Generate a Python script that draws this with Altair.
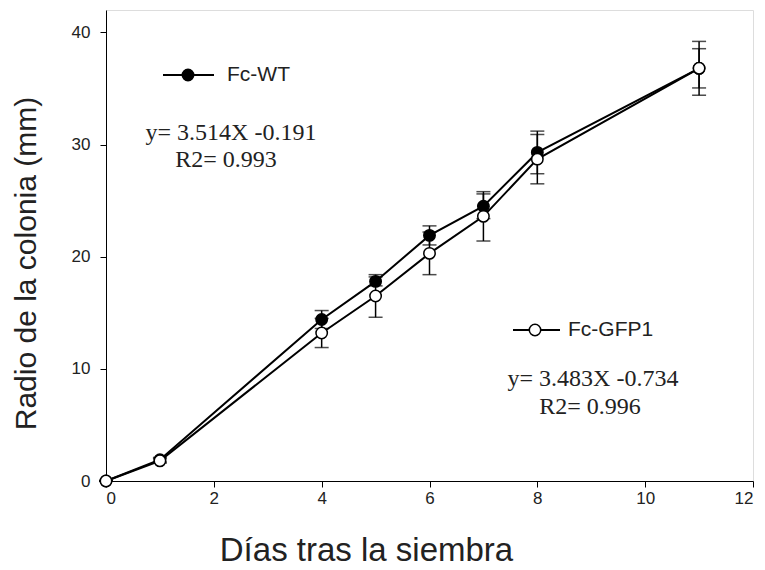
import altair as alt
import pandas as pd

days = [0, 1, 4, 5, 6, 7, 8, 11]
wt_mean = [0.0, 1.9, 14.4, 17.8, 21.9, 24.5, 29.3, 36.8]
wt_err = [0.0, 0.2, 0.8, 0.4, 0.85, 1.1, 1.9, 2.4]
gfp_mean = [0.0, 1.8, 13.2, 16.5, 20.3, 23.6, 28.7, 36.8]
gfp_err = [0.0, 0.2, 1.3, 1.9, 1.9, 2.2, 2.2, 1.75]
series_names = ["Fc-WT", "Fc-GFP1"]

rows = []
for name, means, errs in [("Fc-WT", wt_mean, wt_err), ("Fc-GFP1", gfp_mean, gfp_err)]:
    for d, m, e in zip(days, means, errs):
        rows.append({"day": d, "radio": m, "lo": m - e, "hi": m + e, "series": name})
df = pd.DataFrame(rows)

FONT_SANS = "Liberation Sans"
FONT_SERIF = "Liberation Serif"

xs = alt.Scale(domain=[0, 12], nice=False)
ys = alt.Scale(domain=[0, 42], nice=False)

x_enc = alt.X("day:Q", scale=xs, axis=alt.Axis(
    title="Días tras la siembra", values=[0, 2, 4, 6, 8, 10, 12], format="d",
    titleX=260, titleY=69, titleAlign="center", titleBaseline="middle",
    titleFontSize=33, titleFontWeight="normal", titleFont=FONT_SANS,
    labelFontSize=17, labelFont=FONT_SANS, labelPadding=3, tickSize=6,
    grid=False, domainColor="black", tickColor="black", labelColor="#222222",
    titleColor="#222222"))
y_enc = alt.Y("radio:Q", scale=ys, axis=alt.Axis(
    title="Radio de la colonia (mm)", values=[0, 10, 20, 30, 40],
    titleX=-80, titleY=253, titleAlign="center", titleBaseline="middle", titleAngle=-90,
    titleFontSize=30, titleFontWeight="normal", titleFont=FONT_SANS,
    labelFontSize=17, labelFont=FONT_SANS, labelPadding=10, tickSize=6,
    grid=False, domainColor="black", tickColor="black", labelColor="#222222",
    titleColor="#222222"))

base = alt.Chart(df)

err_rule = base.mark_rule(color="black", strokeWidth=1.5).encode(
    x=x_enc, y=alt.Y("lo:Q", scale=ys), y2="hi:Q")
cap_lo = base.mark_tick(orient="horizontal", size=14, thickness=1.5, color="black").encode(
    x=alt.X("day:Q", scale=xs), y=alt.Y("lo:Q", scale=ys))
cap_hi = base.mark_tick(orient="horizontal", size=14, thickness=1.5, color="black").encode(
    x=alt.X("day:Q", scale=xs), y=alt.Y("hi:Q", scale=ys))
lines = base.mark_line(color="black", strokeWidth=2).encode(
    x=x_enc, y=y_enc, detail="series:N")
points = base.mark_point(filled=True, size=130, stroke="black", strokeWidth=1.5, opacity=1).encode(
    x=alt.X("day:Q", scale=xs), y=alt.Y("radio:Q", scale=ys),
    fill=alt.Fill("series:N", scale=alt.Scale(domain=series_names, range=["black", "white"]), legend=None),
    order=alt.Order("ord:Q")).transform_calculate(ord="datum.series == 'Fc-WT' ? 0 : 1")

one = pd.DataFrame({"a": [0]})

def legend_item(x1, x2, cx, cy, fill, label, tx):
    line = alt.Chart(one).mark_rule(color="black", strokeWidth=2).encode(
        x=alt.value(x1), x2=alt.value(x2), y=alt.value(cy))
    pt = alt.Chart(one).mark_point(filled=True, size=130, stroke="black", strokeWidth=1.5,
                                   fill=fill, opacity=1).encode(
        x=alt.value(cx), y=alt.value(cy))
    txt = alt.Chart(one).mark_text(align="left", baseline="middle", font=FONT_SANS,
                                   fontSize=21, color="#222222").encode(
        x=alt.value(tx), y=alt.value(cy), text=alt.value(label))
    return [line, pt, txt]

def eq_text(x, y, label):
    return alt.Chart(one).mark_text(align="center", baseline="middle", font=FONT_SERIF,
                                    fontSize=24, color="#222222").encode(
        x=alt.value(x), y=alt.value(y), text=alt.value(label))

layers = [err_rule, cap_lo, cap_hi, lines, points]
layers += legend_item(57, 108, 82, 65, "black", "Fc-WT", 121)
layers += [eq_text(125, 123, "y= 3.514X -0.191"), eq_text(120, 150, "R2= 0.993")]
layers += legend_item(407, 454, 429, 320, "white", "Fc-GFP1", 462)
layers += [eq_text(487, 369, "y= 3.483X -0.734"), eq_text(484, 397, "R2= 0.996")]

chart = alt.layer(*layers).properties(
    width=647, height=471,
    autosize=alt.AutoSizeParams(type="none"),
    padding={"left": 98, "top": 2, "right": 4, "bottom": 88},
).configure_view(stroke="black", strokeWidth=1.5).configure(background="white")

chart.save("out.html", embed_options={"renderer": "svg", "actions": False})
